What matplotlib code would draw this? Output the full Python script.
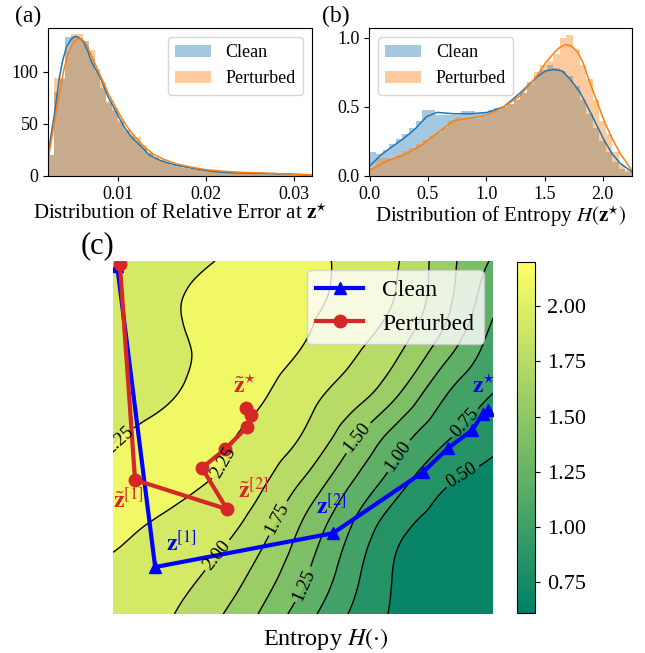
import numpy as np
import matplotlib
matplotlib.use("Agg")
import matplotlib.pyplot as plt
import matplotlib.tri as mtri
from matplotlib.colors import Normalize
from matplotlib.cm import ScalarMappable

plt.rcParams['font.family'] = ['Liberation Serif', 'DejaVu Serif']
plt.rcParams['mathtext.fontset'] = 'stix'

# ---------------- (a) relative error histogram ----------------
err_bin_start = 0.0021
err_bin_width = 0.00066
err_clean = [20, 81, 93, 133, 134, 132, 130, 112, 100, 84, 70, 62, 52, 43, 38, 33, 27, 22, 17, 14,
             12, 11, 10, 8, 7, 6, 5, 5, 4, 4, 3, 3, 3, 2, 2, 3, 3, 2, 2, 2, 1, 1, 1, 1, 1]
err_pert = [20, 94, 94, 120, 136, 136, 126, 121, 103, 90, 72, 65, 54, 45, 40, 37, 30, 22, 18, 15,
            12, 11, 9, 8, 7, 6, 6, 5, 5, 4, 4, 3, 3, 3, 3, 3, 2, 2, 2, 2, 1, 1, 1, 1, 1]
err_kde_clean_x = [0.0021, 0.0025, 0.0029, 0.0034, 0.0038, 0.0042, 0.0047, 0.0052, 0.0056, 0.0061, 0.0066,
                   0.0070, 0.0080, 0.0089, 0.0099, 0.0108, 0.0117, 0.0127, 0.0136, 0.0148, 0.0159,
                   0.0174, 0.0193, 0.0212, 0.0231, 0.0253, 0.0268, 0.0287, 0.0320]
err_kde_clean_y = [20, 42, 63, 95, 112, 124, 131, 134, 133, 129, 120, 110, 95, 76, 60, 46, 36, 28, 20,
                   15, 12, 9, 6, 4, 3, 2.5, 2.5, 2, 1]
err_kde_pert_x = [0.0021, 0.0025, 0.0029, 0.0035, 0.0039, 0.0043, 0.0047, 0.0050, 0.0054, 0.0057, 0.0061,
                  0.0064, 0.0072, 0.0081, 0.0090, 0.0100, 0.0110, 0.0120, 0.0130, 0.0140, 0.0152,
                  0.0165, 0.0180, 0.0200, 0.0220, 0.0240, 0.0260, 0.0290, 0.0320]
err_kde_pert_y = [15, 35, 55, 85, 102, 115, 124, 128, 131, 132, 130, 127, 112, 95, 78, 62, 48, 37, 28,
                  21, 16, 12, 9, 6, 4.5, 3.5, 3, 2, 1]

# ---------------- (b) entropy histogram ----------------
ent_bin_start = 0.0
ent_bin_width = 0.05625
ent_clean = [0.17, 0.16, 0.19, 0.23, 0.27, 0.30, 0.35, 0.40, 0.48, 0.48, 0.44, 0.44, 0.44, 0.44,
             0.47, 0.47, 0.45, 0.46, 0.48, 0.49, 0.50, 0.52, 0.55, 0.60, 0.68, 0.72, 0.77, 0.80,
             0.78, 0.76, 0.72, 0.65, 0.55, 0.45, 0.35, 0.25, 0.17, 0.10, 0.05, 0.03]
ent_pert = [0.06, 0.13, 0.13, 0.12, 0.15, 0.18, 0.20, 0.23, 0.26, 0.29, 0.31, 0.35, 0.40, 0.43,
            0.42, 0.42, 0.41, 0.43, 0.45, 0.47, 0.50, 0.52, 0.56, 0.60, 0.66, 0.75, 0.80, 0.83,
            0.88, 1.00, 1.02, 0.92, 0.80, 0.70, 0.55, 0.40, 0.30, 0.17, 0.08, 0.04]
ent_kde_clean_x = [0.0, 0.094, 0.19, 0.29, 0.39, 0.49, 0.58, 0.72, 0.87, 1.01, 1.15, 1.29, 1.44,
                   1.51, 1.58, 1.65, 1.72, 1.80, 1.87, 1.94, 2.01, 2.08, 2.15, 2.25]
ent_kde_clean_y = [0.07, 0.15, 0.21, 0.27, 0.34, 0.43, 0.46, 0.45, 0.45, 0.46, 0.50, 0.60, 0.72,
                   0.76, 0.77, 0.76, 0.70, 0.61, 0.50, 0.38, 0.26, 0.16, 0.09, 0.03]
ent_kde_pert_x = [0.0, 0.15, 0.29, 0.44, 0.58, 0.72, 0.87, 1.01, 1.15, 1.29, 1.44, 1.51, 1.58,
                  1.63, 1.68, 1.73, 1.78, 1.83, 1.87, 1.94, 2.01, 2.08, 2.15, 2.25]
ent_kde_pert_y = [0.04, 0.11, 0.15, 0.22, 0.31, 0.40, 0.42, 0.44, 0.50, 0.58, 0.73, 0.82, 0.89,
                  0.93, 0.95, 0.94, 0.90, 0.82, 0.72, 0.56, 0.40, 0.27, 0.16, 0.04]

# ---------------- (c) landscape ----------------
grid_u = np.linspace(0, 1, 9)
grid_v = np.linspace(0, 1, 9)
landscape = [  # rows bottom -> top
    [2.16, 2.05, 1.84, 1.52, 1.12, 0.73, 0.46, 0.39, 0.37],
    [2.20, 2.12, 1.99, 1.71, 1.31, 0.86, 0.47, 0.39, 0.38],
    [2.32, 2.22, 2.12, 1.90, 1.47, 1.01, 0.58, 0.42, 0.39],
    [2.30, 2.33, 2.25, 2.07, 1.73, 1.27, 0.85, 0.53, 0.43],
    [2.23, 2.33, 2.33, 2.18, 1.98, 1.57, 1.12, 0.78, 0.57],
    [2.12, 2.20, 2.33, 2.30, 2.10, 1.88, 1.52, 1.02, 0.75],
    [2.10, 2.17, 2.30, 2.36, 2.24, 2.05, 1.79, 1.35, 0.88],
    [2.10, 2.20, 2.32, 2.38, 2.30, 2.18, 1.96, 1.56, 1.05],
    [2.08, 2.15, 2.23, 2.35, 2.32, 2.20, 2.01, 1.60, 1.22],
]
line_levels = [0.5, 0.75, 1.0, 1.25, 1.5, 1.75, 2.0, 2.25]
fill_levels = [0.25] + line_levels + [2.5]
cbar_ticks = [0.75, 1.0, 1.25, 1.5, 1.75, 2.0]

clean_u = [0.011, 0.111, 0.579, 0.816, 0.882, 0.945, 0.974, 0.987]
clean_v = [0.986, 0.133, 0.229, 0.402, 0.470, 0.521, 0.567, 0.578]
pert_u = [0.018, 0.058, 0.300, 0.234, 0.295, 0.353, 0.363, 0.350]
pert_v = [0.992, 0.380, 0.297, 0.414, 0.467, 0.530, 0.564, 0.584]

blue, orange = '#1f77b4', '#ff7f0e'

fig = plt.figure(figsize=(6.45, 6.53), dpi=100)

# === panel (a)
ax_a = fig.add_axes([0.0744, 0.7305, 0.4093, 0.2266])
edges = err_bin_start + err_bin_width * np.arange(len(err_clean))
ax_a.bar(edges, err_clean, width=err_bin_width, align='edge', color=blue, alpha=0.4, label='Clean')
ax_a.bar(edges, err_pert, width=err_bin_width, align='edge', color=orange, alpha=0.4, label='Perturbed')
ax_a.plot(err_kde_clean_x, err_kde_clean_y, color=blue, lw=1.1)
ax_a.plot(err_kde_pert_x, err_kde_pert_y, color=orange, lw=1.1)
ax_a.set_xlim(0.0021, 0.032)
ax_a.set_ylim(0, 142)
ax_a.set_xticks([0.01, 0.02, 0.03])
ax_a.set_yticks([0, 50, 100])
ax_a.tick_params(labelsize=13)
ax_a.set_xlabel(r'Distribution of Relative Error at $\mathbf{z}^{\star}$', fontsize=15, labelpad=1)
ax_a.legend(loc='upper right', fontsize=13)

# === panel (b)
ax_b = fig.add_axes([0.5721, 0.7305, 0.4078, 0.2266])
edges = ent_bin_start + ent_bin_width * np.arange(len(ent_clean))
ax_b.bar(edges, ent_clean, width=ent_bin_width, align='edge', color=blue, alpha=0.4, label='Clean')
ax_b.bar(edges, ent_pert, width=ent_bin_width, align='edge', color=orange, alpha=0.4, label='Perturbed')
ax_b.plot(ent_kde_clean_x, ent_kde_clean_y, color=blue, lw=1.1)
ax_b.plot(ent_kde_pert_x, ent_kde_pert_y, color=orange, lw=1.1)
ax_b.set_xlim(-0.005, 2.25)
ax_b.set_ylim(0, 1.07)
ax_b.set_xticks([0.0, 0.5, 1.0, 1.5, 2.0])
ax_b.set_yticks([0.0, 0.5, 1.0])
ax_b.tick_params(labelsize=13)
ax_b.set_xlabel(r'Distribution of Entropy $H(\mathbf{z}^{\star})$', fontsize=15, labelpad=1)
ax_b.legend(loc='upper left', fontsize=13)

# === panel (c)
ax_c = fig.add_axes([0.1752, 0.0597, 0.5891, 0.5406])
uu, vv = np.meshgrid(grid_u, grid_v)
tri = mtri.Triangulation(uu.ravel(), vv.ravel())
refiner = mtri.UniformTriRefiner(tri)
tri_f, z_f = refiner.refine_field(np.array(landscape).ravel(), subdiv=4)
norm = Normalize(0.3, 2.5)
ax_c.tricontourf(tri_f, z_f, levels=fill_levels, cmap='summer', norm=norm)
cs = ax_c.tricontour(tri_f, z_f, levels=line_levels, colors='k', linewidths=1.0)
label_spots = [(0.02, 0.487), (0.303, 0.422), (0.274, 0.167), (0.432, 0.272), (0.645, 0.499),
               (0.492, 0.088), (0.755, 0.445), (0.926, 0.541), (0.921, 0.388)]
ax_c.clabel(cs, fmt='%1.2f', fontsize=13.5, manual=label_spots, inline=True, inline_spacing=3)

ax_c.plot(clean_u, clean_v, color='blue', lw=3, marker='^', ms=9, label='Clean')
ax_c.plot(pert_u, pert_v, color='#d62728', lw=3, marker='o', ms=9, label='Perturbed')

ax_c.text(0.347, 0.645, r'$\tilde{\mathbf{z}}^{\star}$', color='#d62728', fontsize=17, ha='center', va='center')
ax_c.text(0.975, 0.645, r'$\mathbf{z}^{\star}$', color='blue', fontsize=17, ha='center', va='center')
ax_c.text(0.18, 0.2, r'$\mathbf{z}^{[1]}$', color='blue', fontsize=17, ha='center', va='center')
ax_c.text(0.575, 0.305, r'$\mathbf{z}^{[2]}$', color='blue', fontsize=17, ha='center', va='center')
ax_c.text(0.0, 0.323, r'$\tilde{\mathbf{z}}^{[1]}$', color='#d62728', fontsize=17, ha='left', va='center')
ax_c.text(0.37, 0.351, r'$\tilde{\mathbf{z}}^{[2]}$', color='#d62728', fontsize=17, ha='center', va='center')

ax_c.set_xlim(0, 1)
ax_c.set_ylim(0, 1)
ax_c.set_xticks([])
ax_c.set_yticks([])
for sp in ax_c.spines.values():
    sp.set_visible(False)
ax_c.set_xlabel(r'Entropy $H(\cdot)$', fontsize=17.5)
ax_c.xaxis.set_label_coords(0.56, -0.035)
ax_c.legend(loc='upper right', fontsize=17, framealpha=0.8, borderaxespad=0.4)

cax = fig.add_axes([0.8016, 0.0613, 0.0279, 0.5375])
sm = ScalarMappable(norm=Normalize(0.61, 2.2), cmap='summer')
cb = fig.colorbar(sm, cax=cax, ticks=cbar_ticks, format='%.2f')
cb.ax.tick_params(labelsize=16, pad=5)

fig.text(28 / 645, 1 - 16 / 653, '(a)', fontsize=17, ha='center', va='center')
fig.text(336 / 645, 1 - 16 / 653, '(b)', fontsize=17, ha='center', va='center')
fig.text(98 / 645, 1 - 246 / 653, '(c)', fontsize=22, ha='center', va='center')

fig.savefig('out.png', dpi=100)
